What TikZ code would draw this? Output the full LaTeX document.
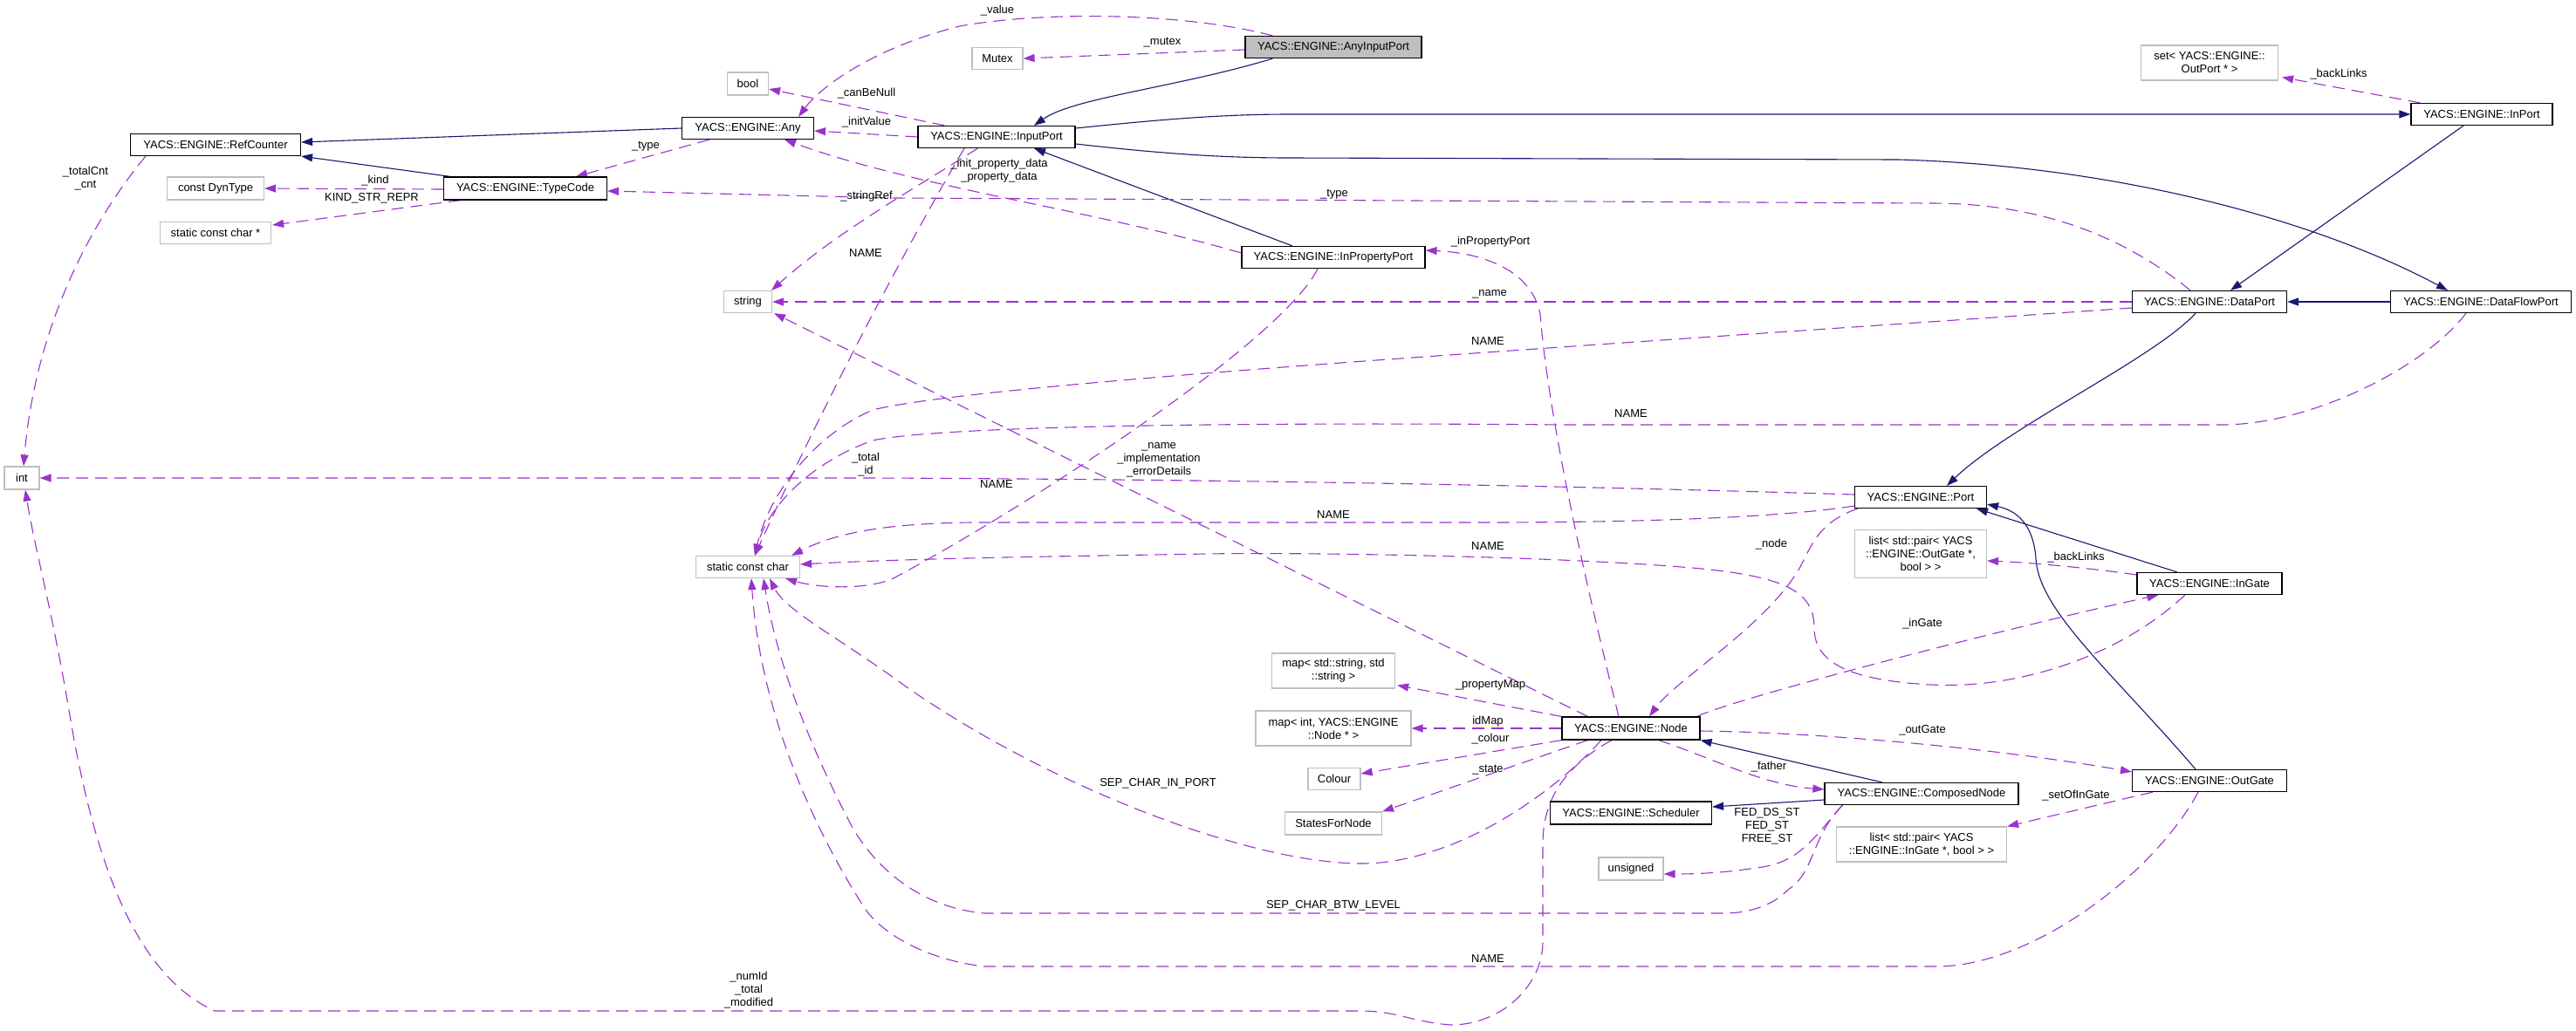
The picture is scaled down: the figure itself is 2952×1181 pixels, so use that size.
\documentclass[tikz,border=0pt]{standalone}
\usepackage{fontspec}
\setmainfont{Liberation Sans}
\usetikzlibrary{arrows.meta,calc}
\definecolor{navyc}{HTML}{191970}
\definecolor{purp}{HTML}{9A32CD}
\definecolor{grayb}{HTML}{BFBFBF}
\pgfdeclarelayer{bg}
\pgfdeclarelayer{edges}
\pgfsetlayers{bg,edges,main}
\begin{document}
\begin{tikzpicture}[x=1pt,y=-1pt,font=\fontsize{13}{15}\selectfont,
  cls/.style={draw=black,line width=1.2pt,fill=white,minimum height=25pt,inner sep=0pt,align=center},
  ext/.style={draw=grayb,line width=1.2pt,fill=white,minimum height=25pt,inner sep=0pt,align=center},
  inh/.style={draw=navyc,line width=1.1pt,-{Triangle[length=13pt,width=9pt]}},
  use/.style={draw=purp,line width=1.1pt,dash pattern=on 14pt off 8pt,-{Triangle[length=13pt,width=9pt]}},
  lbl/.style={inner sep=0pt,align=center,text=black}]
\begin{pgfonlayer}{bg}
\fill[white] (0,0) rectangle (2952,1181);
\end{pgfonlayer}
\useasboundingbox (0,0) rectangle (2952,1181);

% nodes
\node[cls,minimum width=195pt] (refc) at (247,166) {YACS::ENGINE::RefCounter};
\node[cls,minimum width=151pt] (any) at (857,147) {YACS::ENGINE::Any};
\node[ext,minimum width=47pt,minimum height=26pt] (bool) at (857,96) {bool};
\node[ext,minimum width=111pt,minimum height=26pt] (dyn) at (247,216) {const DynType};
\node[cls,minimum width=187pt,minimum height=26pt] (tc) at (602,216) {YACS::ENGINE::TypeCode};
\node[ext,minimum width=127pt] (scc) at (247,267) {static const char *};
\node[ext,minimum width=55pt] (str) at (857,346) {string};
\node[cls,fill=grayb,minimum width=202pt] (aip) at (1528,54) {YACS::ENGINE::AnyInputPort};
\node[ext,minimum width=58pt] (mutex) at (1143,67) {Mutex};
\node[cls,minimum width=180pt] (ip) at (1142,157) {YACS::ENGINE::InputPort};
\node[cls,minimum width=210pt] (ipp) at (1528,295) {YACS::ENGINE::InPropertyPort};
\node[ext,minimum width=157pt,minimum height=40pt] (setp) at (2532,72) {set< YACS::ENGINE::\\OutPort * >};
\node[cls,minimum width=162pt] (inport) at (2844,131) {YACS::ENGINE::InPort};
\node[cls,minimum width=177pt] (dp) at (2532,346) {YACS::ENGINE::DataPort};
\node[cls,minimum width=207pt] (dfp) at (2843,346) {YACS::ENGINE::DataFlowPort};
\node[ext,minimum width=40pt,minimum height=26pt] (int) at (25,548) {int};
\node[ext,minimum width=119pt] (sc) at (857,650) {static const char};
\node[ext,minimum width=141pt,minimum height=40pt] (mapss) at (1528,769) {map< std::string, std\\::string >};
\node[cls,minimum width=151pt] (port) at (2201,570) {YACS::ENGINE::Port};
\node[ext,minimum width=151pt,minimum height=55pt] (lpo) at (2201,635) {list< std::pair< YACS\\::ENGINE::OutGate *,\\bool > >};
\node[cls,minimum width=166pt] (ingate) at (2532,669) {YACS::ENGINE::InGate};
\node[ext,minimum width=178pt,minimum height=40pt] (mapin) at (1528,835) {map< int, YACS::ENGINE\\::Node * >};
\node[cls,minimum width=158pt,minimum height=26pt] (node) at (1869,835) {YACS::ENGINE::Node};
\node[ext,minimum width=60pt] (colour) at (1529,893) {Colour};
\node[ext,minimum width=111pt,minimum height=26pt] (sfn) at (1528,944) {StatesForNode};
\node[cls,minimum width=185pt,minimum height=26pt] (sched) at (1869,932) {YACS::ENGINE::Scheduler};
\node[ext,minimum width=74pt,minimum height=26pt] (uns) at (1869,996) {unsigned};
\node[cls,minimum width=222pt] (cn) at (2202,910) {YACS::ENGINE::ComposedNode};
\node[cls,minimum width=177pt] (og) at (2532,895) {YACS::ENGINE::OutGate};
\node[ext,minimum width=195pt,minimum height=40pt] (lpi) at (2202,968) {list< std::pair< YACS\\::ENGINE::InGate *, bool > >};

% labels
\node[lbl] (l1) at (1143,12) {\_value};
\node[lbl] (l2) at (1332,49) {\_mutex};
\node[lbl] (l3) at (993,107) {\_canBeNull};
\node[lbl] (l4) at (993,140) {\_initValue};
\node[lbl] (l5) at (993,225) {\_stringRef};
\node[lbl] (l6) at (992,290) {NAME};
\node[lbl] (l7) at (740,168) {\_type};
\node[lbl] (l8) at (430,207) {\_kind};
\node[lbl] (l9) at (426,227) {KIND\_STR\_REPR};
\node[lbl] (l10) at (98,205) {\_totalCnt\\\_cnt};
\node[lbl] (l11) at (1145,196) {\_init\_property\_data\\\_property\_data};
\node[lbl] (l12) at (1529,223) {\_type};
\node[lbl] (l13) at (1708,277) {\_inPropertyPort};
\node[lbl] (l14) at (1707,337) {\_name};
\node[lbl] (l15) at (1705,391) {NAME};
\node[lbl] (l16) at (2680,85) {\_backLinks};
\node[lbl] (l17) at (1869,474) {NAME};
\node[lbl] (l18) at (1328,527) {\_name\\\_implementation\\\_errorDetails};
\node[lbl] (l19) at (1142,555) {NAME};
\node[lbl] (l20) at (992,533) {\_total\\\_id};
\node[lbl] (l21) at (1528,590) {NAME};
\node[lbl] (l22) at (1705,626) {NAME};
\node[lbl] (l23) at (2030,624) {\_node};
\node[lbl] (l24) at (2379,639) {\_backLinks};
\node[lbl] (l25) at (2203,715) {\_inGate};
\node[lbl] (l26) at (1708,785) {\_propertyMap};
\node[lbl] (l27) at (1705,827) {idMap};
\node[lbl] (l28) at (1708,847) {\_colour};
\node[lbl] (l29) at (1705,883) {\_state};
\node[lbl] (l30) at (1327,898) {SEP\_CHAR\_IN\_PORT};
\node[lbl] (l31) at (2203,837) {\_outGate};
\node[lbl] (l32) at (2027,879) {\_father};
\node[lbl] (l33) at (2379,912) {\_setOfInGate};
\node[lbl] (l34) at (2025,947) {FED\_DS\_ST\\FED\_ST\\FREE\_ST};
\node[lbl] (l35) at (1528,1038) {SEP\_CHAR\_BTW\_LEVEL};
\node[lbl] (l36) at (1705,1099) {NAME};
\node[lbl] (l37) at (858,1135) {\_numId\\\_total\\\_modified};

\begin{pgfonlayer}{edges}
% inheritance
\draw[inh] ($(aip.south west)+(32,0)$) .. controls (1350,100) and (1230,112) .. ($(ip.north)+(43,0)$);
\draw[inh] ($(ip.east)+(0,-10)$) .. controls (1330,137) and (1400,131) .. (1478,131) -- (inport.west);
\draw[inh] ($(ip.east)+(0,8)$) .. controls (1330,176) and (1400,181) .. (1478,181) -- (2176,183) .. controls (2420,190) and (2650,250) .. ($(dfp.north)+(-38,0)$);
\draw[inh] (any.west) -- ($(refc.east)+(0,-3)$);
\draw[inh] ($(tc.north west)+(8,0)$) -- (refc.south east);
\draw[inh] ($(ipp.north)+(-47,0)$) -- ($(ip.south)+(43,0)$);
\draw[inh] ($(inport.south)+(-21,0)$) -- ($(dp.north)+(24,0)$);
\draw[inh] (dfp.west) -- (dp.east);
\draw[inh] ($(dp.south)+(-16,0)$) .. controls (2470,410) and (2300,490) .. ($(port.north)+(30,0)$);
\draw[inh] ($(ingate.north)+(-37,0)$) -- ($(port.south)+(64,0)$);
\draw[inh] ($(og.north)+(-16,0)$) .. controls (2420,770) and (2336,700) .. (2333,640) .. controls (2330,600) and (2310,585) .. ($(port.south east)+(0,-5)$);
\draw[inh] ($(cn.north)+(-45,0)$) -- (node.south east);
\draw[inh] ($(cn.west)+(0,7)$) -- ($(sched.east)+(0,-7)$);

% usage
\draw[use] ($(aip.north west)+(32,0)$) .. controls (1360,15) and (1200,12) .. (1100,30) .. controls (1000,55) and (940,100) .. ($(any.north)+(58,0)$);
\draw[use] ($(aip.west)+(0,3)$) -- (mutex.east);
\draw[use] ($(ip.north west)+(31,0)$) -- ($(bool.east)+(0,6)$);
\draw[use] (ip.west) -- ($(any.east)+(0,3)$);
\draw[use] ($(ip.south west)+(69,0)$) .. controls (1050,215) and (960,265) .. ($(str.north)+(27,0)$);
\draw[use] ($(ip.south)+(-37,0)$) .. controls (1040,280) and (940,470) .. ($(sc.north)+(8,0)$);
\draw[use] ($(ipp.west)+(0,-5)$) .. controls (1250,240) and (1050,215) .. ($(any.south)+(42,0)$);
\draw[use] ($(ipp.south)+(-18,0)$) .. controls (1470,390) and (1180,580) .. (1020,665) .. controls (980,678) and (930,672) .. ($(sc.south east)+(-17,0)$);
\draw[use] ($(any.south west)+(32,0)$) -- ($(tc.north)+(58,0)$);
\draw[use] ($(tc.west)+(0,1)$) -- (dyn.east);
\draw[use] ($(tc.south west)+(20,0)$) -- ($(scc.east)+(1,-9)$);
\draw[use] ($(refc.south west)+(18,0)$) .. controls (100,260) and (40,380) .. ($(int.north)+(2,0)$);
\draw[use] ($(port.west)+(0,-3)$) .. controls (1900,560) and (1500,550) .. (1000,548) -- (int.east);
\draw[use] ($(port.west)+(0,10)$) .. controls (2050,592) and (1900,599) .. (1700,599) -- (1115,599) .. controls (1000,600) and (950,615) .. ($(sc.north east)+(-10,0)$);
\draw[use] ($(port.south west)+(4,0)$) .. controls (2080,600) and (2075,630) .. (2060,655) .. controls (2020,720) and (1920,780) .. ($(node.north)+(21,0)$);
\draw[use] ($(ingate.west)+(0,-10)$) .. controls (2400,652) and (2330,645) .. ($(lpo.east)+(0,8)$);
\draw[use] ($(ingate.south)+(-28,0)$) .. controls (2420,760) and (2300,790) .. (2213,785) .. controls (2120,780) and (2079,760) .. (2079,720) .. controls (2079,680) and (2050,662) .. (1950,652) .. controls (1800,638) and (1500,633) .. (1383,635) .. controls (1200,638) and (1050,640) .. ($(sc.east)+(0,-3)$);
\draw[use] ($(dfp.south)+(-17,0)$) .. controls (2780,420) and (2650,487) .. (2546,487) -- (1800,487) .. controls (1300,483) and (1060,492) .. (1000,505) .. controls (930,530) and (880,580) .. ($(sc.north)+(8,0)$);
\draw[use] ($(dp.west)+(0,7)$) .. controls (2200,370) and (1900,390) .. (1760,400) .. controls (1400,425) and (1080,450) .. (1000,470) .. controls (930,500) and (880,570) .. ($(sc.north)+(8,0)$);
\draw[use] (dp.west) -- (str.east);
\draw[use] ($(dp.north)+(-22,0)$) .. controls (2420,260) and (2320,233) .. (2212,233) -- (1025,227) -- ($(tc.east)+(0,3)$);
\draw[use] ($(inport.north west)+(11,0)$) -- ($(setp.south east)+(4,-4)$);
\draw[use] ($(node.north)+(-14,0)$) .. controls (1800,600) and (1772,450) .. (1765,360) .. controls (1755,310) and (1700,290) .. ($(ipp.east)+(0,-8)$);
\draw[use] ($(node.north west)+(30,0)$) -- ($(str.south east)+(2,0)$);
\draw[use] (node.north west) -- ($(mapss.south east)+(2,-4)$);
\draw[use] (node.west) -- (mapin.east);
\draw[use] (node.south west) -- ($(colour.east)+(0,-6)$);
\draw[use] ($(node.south west)+(30,0)$) -- (sfn.north east);
\draw[use] ($(node.south)+(-34,0)$) .. controls (1760,930) and (1650,990) .. (1561,990) .. controls (1430,990) and (1200,900) .. (1038,787) .. controls (960,730) and (900,700) .. ($(sc.south)+(25,0)$);
\draw[use] ($(node.south)+(-22,0)$) .. controls (1790,880) and (1768,920) .. (1768,967) -- (1768,1080) .. controls (1768,1130) and (1720,1175) .. (1663,1175) .. controls (1620,1172) and (1600,1159) .. (1560,1159) -- (246,1159) .. controls (160,1120) and (110,1000) .. (80,820) .. controls (60,700) and (40,630) .. ($(int.south)+(4,0)$);
\draw[use] ($(node.east)+(0,3)$) .. controls (2100,840) and (2300,860) .. ($(og.north west)+(0,3)$);
\draw[use] ($(node.north east)+(-4,0)$) .. controls (1990,800) and (2300,720) .. ($(ingate.south west)+(25,0)$);
\draw[use] ($(node.south east)+(-48,0)$) .. controls (1960,868) and (2020,900) .. ($(cn.west)+(0,-5)$);
\draw[use] ($(cn.south west)+(21,0)$) .. controls (2075,965) and (2060,990) .. (2012,995) .. controls (1980,1000) and (1950,1002) .. ($(uns.east)+(0,6)$);
\draw[use] ($(cn.south west)+(21,0)$) .. controls (2075,960) and (2080,1000) .. (2049,1020) .. controls (2030,1040) and (2000,1047) .. (1976,1047) -- (1128,1047) .. controls (1050,1040) and (1000,990) .. (976,947) .. controls (930,860) and (890,760) .. ($(sc.south)+(18,0)$);
\draw[use] ($(og.south)+(-13,0)$) .. controls (2470,1000) and (2330,1108) .. (2219,1108) -- (1128,1108) .. controls (1060,1100) and (1010,1070) .. (990,1040) .. controls (920,930) and (870,800) .. ($(sc.south)+(4,0)$);
\draw[use] ($(og.south west)+(24,0)$) -- (lpi.north east);
\end{pgfonlayer}
\end{tikzpicture}
\end{document}
